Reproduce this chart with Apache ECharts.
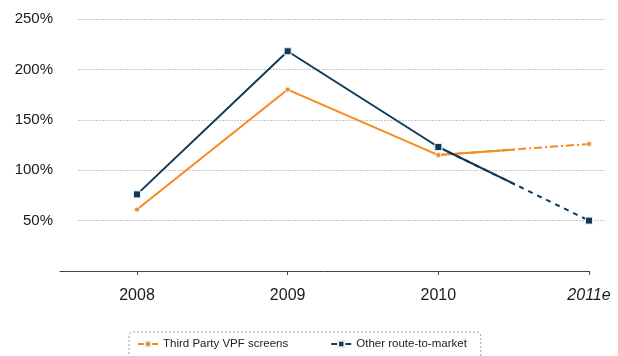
<!DOCTYPE html>
<html>
<head>
<meta charset="utf-8">
<script src="https://cdn.jsdelivr.net/npm/echarts@6/dist/echarts.min.js"></script>
<style>
  html, body { margin: 0; padding: 0; background: #fff; }
  #chart { width: 618px; height: 356px; }
</style>
</head>
<body>
<div id="chart"></div>
<script>
// Category labels along the bottom axis
const years = ['2008', '2009', '2010', '2011e'];
// Percent values per year
const thirdParty = [61, 180, 115, 126];
const otherRoute = [76, 218, 123, 50];
// Y axis ticks
const yTicks = [50, 100, 150, 200, 250];

const ORANGE = '#f58a1f';
const NAVY = '#0c3a58';
const FONT = '"Liberation Sans", Arial, sans-serif';

// Actual years are solid; the forecast year gets a dashed segment.
const lastActual = 2;
const pts = (arr, from, to) => arr.slice(from, to + 1).map((v, i) => [from + i, v]);

const X_MIN = -0.511;
const Y_MAX = 250;

function lineSeries(name, color, data, opts) {
  return Object.assign({
    name: name,
    type: 'line',
    data: data,
    symbolKeepAspect: true,
    lineStyle: { color: color, width: 2 },
    itemStyle: { color: color, borderColor: '#e8eef3', borderWidth: 1 },
    emphasis: { disabled: true },
    animation: false,
    z: 3
  }, opts);
}

const orangeSym = { symbol: 'circle', symbolSize: 5 };
const navySym = { symbol: 'rect', symbolSize: 7 };

const option = {
  backgroundColor: '#fff',
  animation: false,
  textStyle: { fontFamily: FONT },
  grid: [
    // grid 0: horizontal gridlines and y labels
    { left: 78, right: 13, top: 19, bottom: 85 },
    // grid 1: data and category axis
    { left: 60, right: 29, top: 19, bottom: 85 },
    // grid 2: same scale, clipped at the midpoint between the last two years
    { left: 60, width: (lastActual + 0.5 - X_MIN) * ((618 - 29 - 60) / (3 - X_MIN)), top: 19, bottom: 85 }
  ],
  xAxis: [
    { gridIndex: 0, type: 'value', min: 0, max: 1, show: false },
    {
      gridIndex: 1, type: 'value', min: X_MIN, max: years.length - 1,
      splitLine: { show: false },
      axisLine: { show: true, onZero: false, lineStyle: { color: '#444', width: 1 } },
      axisTick: { show: true, length: 4, lineStyle: { color: '#444' }, customValues: years.map((_, i) => i) },
      axisLabel: {
        margin: 17,
        fontSize: 16,
        color: '#1a1a1a',
        fontFamily: FONT,
        customValues: years.map((_, i) => i),
        formatter: v => {
          const y = years[Math.round(v)];
          return /e$/.test(y) ? '{it|' + y + '}' : y;
        },
        rich: { it: { fontStyle: 'italic', fontSize: 16, color: '#1a1a1a', fontFamily: FONT } }
      }
    },
    { gridIndex: 2, type: 'value', min: X_MIN, max: lastActual + 0.5, show: false }
  ],
  yAxis: [
    {
      gridIndex: 0, type: 'value', min: 0, max: Y_MAX, interval: 50,
      axisLine: { show: false }, axisTick: { show: false },
      splitLine: {
        show: true,
        lineStyle: { color: '#c8c8c8', type: [2, 1], width: 1 },
        showMinLine: false
      },
      axisLabel: {
        margin: 25, fontSize: 15, color: '#1a1a1a', fontFamily: FONT,
        customValues: yTicks,
        formatter: v => v + '%'
      }
    },
    { gridIndex: 1, type: 'value', min: 0, max: Y_MAX, show: false },
    { gridIndex: 2, type: 'value', min: 0, max: Y_MAX, show: false }
  ],
  legend: {
    data: [
      { name: 'Third Party VPF screens', lineStyle: { type: 'solid', width: 2, color: ORANGE } },
      { name: 'Other route-to-market', lineStyle: { type: 'solid', width: 2, color: NAVY } }
    ],
    left: 129,
    top: 332,
    orient: 'horizontal',
    itemWidth: 20,
    itemHeight: 8,
    itemGap: 42,
    padding: [6, 14, 20, 8],
    borderColor: '#9a9a9a',
    borderWidth: 1,
    borderType: [2, 2],
    borderRadius: 4,
    textStyle: { fontSize: 11.5, color: '#222', fontFamily: FONT },
    selectedMode: false
  },
  series: [
    // Third Party VPF screens
    lineSeries('Third Party VPF screens', ORANGE, pts(thirdParty, 0, lastActual),
      Object.assign({ xAxisIndex: 1, yAxisIndex: 1 }, orangeSym)),
    lineSeries('Third Party VPF screens', ORANGE, pts(thirdParty, lastActual, 3),
      Object.assign({ xAxisIndex: 1, yAxisIndex: 1, z: 2, lineStyle: { color: ORANGE, width: 2, type: [8, 3, 2, 3] } }, orangeSym)),
    lineSeries('Third Party VPF screens', ORANGE, pts(thirdParty, lastActual, 3),
      { xAxisIndex: 2, yAxisIndex: 2, symbol: 'none', clip: true, z: 2 }),
    // Other route-to-market
    lineSeries('Other route-to-market', NAVY, pts(otherRoute, 0, lastActual),
      Object.assign({ xAxisIndex: 1, yAxisIndex: 1, z: 5 }, navySym)),
    lineSeries('Other route-to-market', NAVY, pts(otherRoute, lastActual, 3),
      Object.assign({ xAxisIndex: 1, yAxisIndex: 1, z: 4, lineStyle: { color: NAVY, width: 2, type: [5, 5] } }, navySym)),
    lineSeries('Other route-to-market', NAVY, pts(otherRoute, lastActual, 3),
      { xAxisIndex: 2, yAxisIndex: 2, symbol: 'none', clip: true, z: 4 })
  ]
};

const chart = echarts.init(document.getElementById('chart'), null, { renderer: 'canvas' });
chart.setOption(option);
</script>
</body>
</html>
